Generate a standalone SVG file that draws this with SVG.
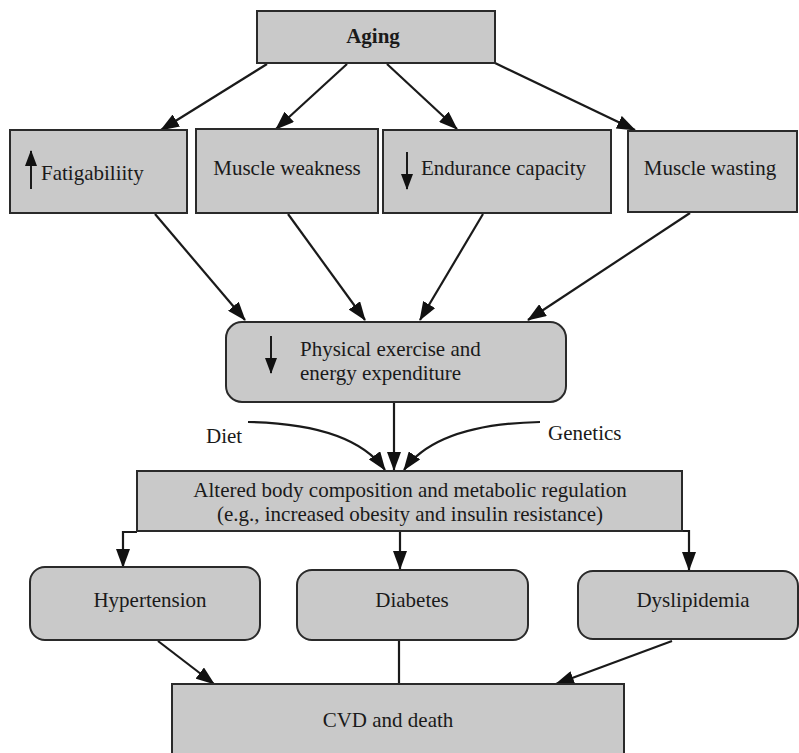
<svg xmlns="http://www.w3.org/2000/svg" width="799" height="753" viewBox="0 0 799 753">
  <style>
    .box { fill: #c9c9c9; stroke: #2a2a2a; stroke-width: 2; }
    .lbl { font-family: 'Liberation Serif', 'Tinos', 'Times New Roman', 'DejaVu Serif', serif; font-size: 21px; fill: #1a1a1a; }
    .bold { font-weight: bold; }
    .mid { text-anchor: middle; }
    .edge { fill: none; stroke: #1a1a1a; stroke-width: 2.2; }
    .edge-a { fill: none; stroke: #1a1a1a; stroke-width: 2.2; marker-end: url(#head); }
    .sym { fill: none; stroke: #1a1a1a; stroke-width: 2; marker-end: url(#headS); }
  </style>
  <defs>
    <marker id="head" markerUnits="userSpaceOnUse" markerWidth="20" markerHeight="14" refX="18" refY="7" orient="auto">
      <path d="M0,0 L19,7 L0,14 z" fill="#111"/>
    </marker>
    <marker id="headS" markerUnits="userSpaceOnUse" markerWidth="16" markerHeight="12" refX="15" refY="6" orient="auto">
      <path d="M0,0 L16,6 L0,12 z" fill="#111"/>
    </marker>
  </defs>

  <rect width="799" height="753" fill="#ffffff"/>

  <!-- connectors -->
  <g id="connectors">
    <line class="edge-a" x1="267" y1="64" x2="161" y2="130"/>
    <line class="edge-a" x1="347" y1="64" x2="276" y2="129"/>
    <line class="edge-a" x1="387" y1="64" x2="457" y2="129"/>
    <line class="edge-a" x1="495" y1="63" x2="635" y2="130"/>

    <line class="edge-a" x1="155" y1="214" x2="245" y2="320"/>
    <line class="edge-a" x1="288" y1="214" x2="365" y2="320"/>
    <line class="edge-a" x1="483" y1="214" x2="420" y2="320"/>
    <line class="edge-a" x1="690" y1="213" x2="528" y2="320"/>

    <line class="edge-a" x1="394" y1="402" x2="394" y2="470"/>
    <path class="edge-a" d="M248,422 Q352,424 385,470"/>
    <path class="edge-a" d="M540,422 Q437,424 404,470"/>

    <path class="edge-a" d="M137,532 L123,532 L123,567"/>
    <line class="edge-a" x1="400" y1="531" x2="400" y2="569"/>
    <path class="edge-a" d="M682,531 L689,531 L689,570"/>

    <line class="edge-a" x1="158" y1="641" x2="214" y2="684"/>
    <line class="edge" x1="399" y1="640" x2="399" y2="684"/>
    <line class="edge-a" x1="672" y1="641" x2="556" y2="684"/>
  </g>

  <!-- nodes -->
  <g id="aging">
    <rect class="box" x="257" y="11" width="238" height="52"/>
    <text class="lbl bold mid" x="373" y="43">Aging</text>
  </g>

  <g id="fatigability">
    <rect class="box" x="10" y="130" width="177" height="83"/>
    <line class="sym" x1="31" y1="189" x2="31" y2="151"/>
    <text class="lbl" x="41" y="180">Fatigabiliity</text>
  </g>

  <g id="muscle-weakness">
    <rect class="box" x="196" y="129" width="182" height="84"/>
    <text class="lbl mid" x="287" y="175">Muscle weakness</text>
  </g>

  <g id="endurance">
    <rect class="box" x="383" y="130" width="228" height="83"/>
    <line class="sym" x1="407" y1="152" x2="407" y2="189"/>
    <text class="lbl" x="421" y="175">Endurance capacity</text>
  </g>

  <g id="muscle-wasting">
    <rect class="box" x="628" y="131" width="169" height="81"/>
    <text class="lbl mid" x="710" y="175">Muscle wasting</text>
  </g>

  <g id="physical-exercise">
    <rect class="box" x="226" y="322" width="340" height="80" rx="16" ry="16"/>
    <line class="sym" x1="271" y1="336" x2="271" y2="373"/>
    <text class="lbl" x="300" y="356">Physical exercise and</text>
    <text class="lbl" x="300" y="380">energy expenditure</text>
  </g>

  <g id="diet">
    <text class="lbl" x="206" y="443">Diet</text>
  </g>

  <g id="genetics">
    <text class="lbl" x="548" y="440">Genetics</text>
  </g>

  <g id="altered-composition">
    <rect class="box" x="137" y="471" width="545" height="60"/>
    <text class="lbl mid" x="410" y="497">Altered body composition and metabolic regulation</text>
    <text class="lbl mid" x="410" y="521">(e.g., increased obesity and insulin resistance)</text>
  </g>

  <g id="hypertension">
    <rect class="box" x="30" y="567" width="230" height="73" rx="15" ry="15"/>
    <text class="lbl mid" x="150" y="607">Hypertension</text>
  </g>

  <g id="diabetes">
    <rect class="box" x="297" y="570" width="231" height="70" rx="15" ry="15"/>
    <text class="lbl mid" x="412" y="607">Diabetes</text>
  </g>

  <g id="dyslipidemia">
    <rect class="box" x="578" y="571" width="220" height="68" rx="15" ry="15"/>
    <text class="lbl mid" x="693" y="607">Dyslipidemia</text>
  </g>

  <g id="cvd">
    <rect class="box" x="172" y="684" width="452" height="80"/>
    <text class="lbl mid" x="388" y="727">CVD and death</text>
  </g>
</svg>
